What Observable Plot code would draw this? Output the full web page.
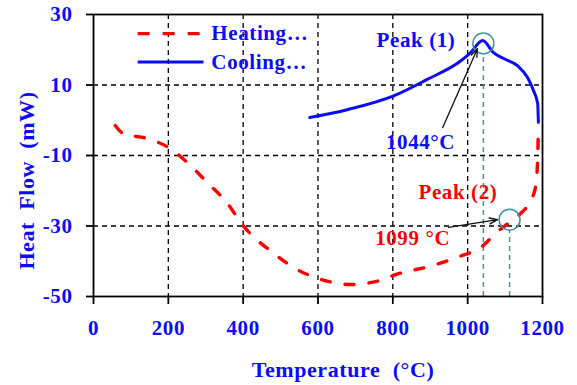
<!DOCTYPE html>
<html>
<head>
<meta charset="utf-8">
<script src="https://cdn.jsdelivr.net/npm/d3@7"></script>
<script src="https://cdn.jsdelivr.net/npm/@observablehq/plot@0.6"></script>
<style>
  html, body { margin: 0; padding: 0; background: #fff; }
</style>
</head>
<body>
<div id="chart"></div>
<script>
// ---- data ----
const xTicks = [0, 200, 400, 600, 800, 1000, 1200];
const yTicks = [-50, -30, -10, 10, 30];
const xGrid = [200, 400, 600, 800, 1000];
const yGrid = [-30, -10, 10];

const heatT = [58, 80, 144, 200, 259, 304, 356, 400, 482, 545, 601, 687, 767, 807, 900, 972, 1042, 1074, 1112, 1141, 1168, 1181, 1187, 1189];
const heatF = [-1.5, -3.8, -5.2, -7.7, -12.8, -17.7, -23.3, -29.9, -37.8, -42.4, -44.9, -46.6, -45.4, -43.8, -41.4, -38.9, -35.5, -32.1, -29.0, -26.5, -22.8, -19.1, -11.4, -1.2];

const coolT = [578, 678, 802, 892, 981, 1008, 1040, 1069, 1096, 1133, 1160, 1176, 1187, 1189];
const coolF = [0.8, 3.0, 6.9, 11.6, 16.8, 19.2, 22.6, 19.2, 17.5, 15.5, 12.1, 8.4, 4.8, -0.6];

const seriesNames = ["Heating\u2026", "Cooling\u2026"];
const legendX = [118, 294, 315];
const legendY = [24.6, 16.5];

const peakNames = ["Peak (1)", "Peak (2)"];
const peakLabels = ["1044\u00b0C", "1099 \u00b0C"];
const peakT = [1042, 1112];
const peakF = [21.8, -28.2];
const peakNameX = [862, 974];
const peakNameY = [22.6, -20.5];
const peakLabelX = [874, 853];
const peakLabelY = [-6.3, -33.5];
const arrowFrom = [[933, -2.1], [949, -30.4]];
const arrowTo = [[1026, 20.3], [1080, -28.2]];

const xTitle = "Temperature\u00a0\u00a0(\u00b0C)";
const yTitle = "Heat\u00a0\u00a0Flow\u00a0\u00a0(mW)";

// ---- build tables ----
const heating = heatT.map((t, i) => ({t, f: heatF[i]}));
const cooling = coolT.map((t, i) => ({t, f: coolF[i]}));
const peaks = peakT.map((t, i) => ({
  t, f: peakF[i], name: peakNames[i], label: peakLabels[i],
  nx: peakNameX[i], ny: peakNameY[i], lx: peakLabelX[i], ly: peakLabelY[i],
  ax1: arrowFrom[i][0], ay1: arrowFrom[i][1], ax2: arrowTo[i][0], ay2: arrowTo[i][1]
}));
const legend = seriesNames.map((name, i) => ({name, y: legendY[i]}));

const blue = "#0a0aff";
const red = "#ff0000";
const teal = "#3f93a6";
const serif = "'Liberation Serif', 'Times New Roman', serif";
const fmt = d => String(d);

const chart = Plot.plot({
  width: 577,
  height: 385,
  marginLeft: 93,
  marginRight: 35,
  marginTop: 14,
  marginBottom: 89,
  style: {fontFamily: serif, fontSize: "21px", fontWeight: "bold", background: "#fff", letterSpacing: "0.6px"},
  x: {domain: [0, 1200], label: null},
  y: {domain: [-50, 30], label: null},
  marks: [
    Plot.gridX(xGrid, {stroke: "#000", strokeOpacity: 1, strokeWidth: 1.3, strokeDasharray: "5,4"}),
    Plot.gridY(yGrid, {stroke: "#000", strokeOpacity: 1, strokeWidth: 1.3, strokeDasharray: "5,4"}),
    Plot.axisX(xTicks, {tickSize: 8, tickPadding: 16, stroke: "#000", strokeWidth: 1.8, fill: blue, label: null, tickFormat: fmt}),
    Plot.axisY(yTicks, {tickSize: 7, tickPadding: 14, stroke: "#000", strokeWidth: 1.8, fill: blue, label: null, tickFormat: fmt}),
    // peak guides
    Plot.ruleX(peaks, {x: "t", y1: -50, y2: d => d.f - 3, stroke: teal, strokeWidth: 1.5, strokeDasharray: "5,4"}),
    Plot.line(heating, {x: "t", y: "f", stroke: red, strokeWidth: 3.4, strokeDasharray: "9,15", strokeLinecap: "round", curve: "monotone-x"}),
    Plot.line(cooling, {x: "t", y: "f", stroke: blue, strokeWidth: 3, curve: "monotone-x"}),
    Plot.dot(peaks, {x: "t", y: "f", r: 10.5, stroke: teal, strokeWidth: 1.5, fill: "none"}),
    Plot.arrow(peaks, {x1: "ax1", y1: "ay1", x2: "ax2", y2: "ay2", stroke: "#111", strokeWidth: 1.3, headLength: 10, headAngle: 40}),
    Plot.text(peaks, {x: "nx", y: "ny", text: "name", fill: (d, i) => i === 0 ? blue : red, textAnchor: "middle", lineAnchor: "middle"}),
    Plot.text(peaks, {x: "lx", y: "ly", text: "label", fill: (d, i) => i === 0 ? blue : red, textAnchor: "middle", lineAnchor: "middle"}),
    // legend
    Plot.link(legend.slice(0, 1), {x1: legendX[0], x2: legendX[1], y1: "y", y2: "y", stroke: red, strokeWidth: 3.2, strokeDasharray: "12,13", strokeLinecap: "butt"}),
    Plot.link(legend.slice(1, 2), {x1: legendX[0], x2: legendX[1], y1: "y", y2: "y", stroke: blue, strokeWidth: 3}),
    Plot.text(legend, {x: legendX[2], y: "y", text: "name", fill: blue, textAnchor: "start", lineAnchor: "middle"}),
    // axis titles
    Plot.text([xTitle], {frameAnchor: "bottom", dx: 25, dy: 80, fill: blue, fontSize: 22, textAnchor: "middle", lineAnchor: "bottom"}),
    Plot.text([yTitle], {frameAnchor: "left", dx: -67, dy: 25, rotate: -90, fill: blue, fontSize: 22, textAnchor: "middle", lineAnchor: "middle"}),
    Plot.frame({stroke: "#000", strokeWidth: 1.8})
  ]
});
document.getElementById("chart").appendChild(chart);
</script>
</body>
</html>
